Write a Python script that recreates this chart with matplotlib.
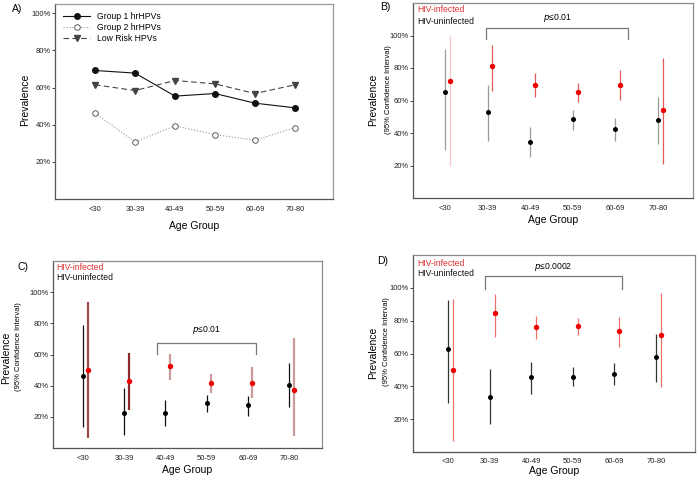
import numpy as np
import matplotlib
matplotlib.use("Agg")
import matplotlib.pyplot as plt

plt.rcParams['font.family'] = ['Liberation Sans', 'DejaVu Sans']

age_groups = ['<30', '30-39', '40-49', '50-59', '60-69', '70-80']

# panel A
group1 = [69.2, 67.8, 55.4, 56.8, 51.6, 49.1]
group2 = [46.2, 30.7, 39.4, 34.7, 31.6, 38.5]
low_risk = [61.5, 58.4, 63.8, 62.0, 56.8, 61.5]

# panel B
b_uninf = [65.0, 52.7, 34.5, 48.4, 42.5, 48.0]
b_uninf_lo = [29.3, 35.1, 25.2, 42.0, 35.1, 33.0]
b_uninf_hi = [91.9, 69.7, 43.7, 54.0, 49.4, 62.4]
b_inf = [72.2, 81.4, 69.7, 65.2, 69.7, 54.2]
b_inf_lo = [19.5, 66.0, 62.2, 59.0, 60.1, 21.1]
b_inf_hi = [99.5, 94.4, 76.9, 70.6, 78.8, 86.2]

# panel C
c_uninf = [45.9, 22.6, 22.2, 28.6, 27.3, 40.3]
c_uninf_lo = [13.7, 8.5, 14.1, 23.3, 20.7, 26.0]
c_uninf_hi = [79.1, 38.2, 30.5, 33.9, 33.5, 54.8]
c_inf = [50.3, 42.7, 52.3, 41.4, 42.0, 37.1]
c_inf_lo = [6.6, 24.5, 43.9, 35.6, 31.8, 7.5]
c_inf_hi = [93.7, 61.2, 60.2, 47.4, 52.0, 70.4]

# panel D
d_uninf = [62.9, 33.3, 45.5, 45.9, 47.5, 57.7]
d_uninf_lo = [29.8, 17.3, 35.5, 40.2, 40.6, 42.6]
d_uninf_hi = [92.4, 50.8, 54.8, 52.0, 54.4, 71.9]
d_inf = [50.2, 84.5, 76.1, 76.8, 73.7, 71.1]
d_inf_lo = [6.9, 70.1, 69.0, 71.5, 64.2, 39.4]
d_inf_hi = [93.2, 96.2, 83.0, 81.6, 82.4, 97.1]

W, H = 699, 482
fig = plt.figure(figsize=(W / 100, H / 100), dpi=100)

TICK = 5.5
XLAB = 7.5
YLAB = 7.5
SUB = 5.5
KEY = 6.2
PANEL = 7.5


def rect(l, t, r, b):
    return [l / W, 1 - b / H, (r - l) / W, (b - t) / H]


def px(x, y):
    return x / W, 1 - y / H


def style_axes(ax, frame='#8a8a8a'):
    for s in ['top', 'right']:
        ax.spines[s].set_color(frame)
    for s in ['left', 'bottom']:
        ax.spines[s].set_color('#555555')
    for s in ax.spines.values():
        s.set_linewidth(0.9)
    ax.set_yticks([20, 40, 60, 80, 100])
    ax.set_yticklabels(['20%', '40%', '60%', '80%', '100%'])
    ax.tick_params(axis='y', length=2, width=0.6, pad=1, labelsize=TICK, colors='#222222')
    ax.tick_params(axis='x', length=0, pad=5, labelsize=TICK, colors='#222222')
    ax.set_xticks(np.arange(1, 7))
    ax.set_xticklabels(age_groups)


x = np.arange(1, 7)

# ---- A
axA = fig.add_axes(rect(55, 4, 333, 199))
axA.plot(x, group1, '-', color='#111111', lw=0.8, marker='o', ms=4, label='Group 1 hrHPVs')
axA.plot(x, group2, ':', color='#999999', lw=0.8, marker='o', ms=4, mfc='white',
         mec='#444444', mew=0.6, label='Group 2 hrHPVs')
axA.plot(x, low_risk, '--', color='#444444', lw=0.8, marker='v', ms=4, dashes=(5, 3),
         label='Low Risk HPVs')
axA.set_xlim(0, 6.95)
axA.set_ylim(0, 105)
style_axes(axA, '#999999')
axA.set_xlabel('Age Group', fontsize=XLAB, labelpad=6)
axA.legend(loc='upper left', bbox_to_anchor=(0.0, 1.0), frameon=False, fontsize=KEY,
           handlelength=3.2, labelspacing=0.25, borderaxespad=0.5)
fig.text(*px(25, 100), 'Prevalence', rotation=90, ha='center', va='center', fontsize=YLAB)
fig.text(*px(17, 9), 'A)', ha='center', va='center', fontsize=PANEL)


def ci_panel(rc, xlim, uninf, ulo, uhi, inf, ilo, ihi, ucol, icol, uw, iw, off=0.11):
    ax = fig.add_axes(rect(*rc))
    for i in range(6):
        ax.vlines(x[i], ulo[i], uhi[i], color=ucol[i], lw=uw)
        ax.vlines(x[i] + off, ilo[i], ihi[i], color=icol[i], lw=iw)
    ax.plot(x, uninf, 'o', color='black', ms=3.6, mec='none')
    ax.plot(x + off, inf, 'o', color='#ee0000', ms=3.9, mec='none')
    ax.set_xlim(*xlim)
    ax.set_ylim(0, 120)
    style_axes(ax)
    return ax


def bracket(ax, x0, x1, y, ylo, label, ty):
    ax.plot([x0, x0, x1, x1], [ylo, y, y, ylo], color='#777777', lw=0.9)
    ax.text((x0 + x1) / 2, ty, label, ha='center', va='center', fontsize=KEY)


def keys(xp, y1, y2):
    fig.text(*px(xp, y1), 'HIV-infected', color='#e03030', ha='left', va='center', fontsize=KEY)
    fig.text(*px(xp, y2), 'HIV-uninfected', color='#111111', ha='left', va='center',
             fontsize=KEY)


def ylabels(x1, y1, x2, y2):
    fig.text(*px(x1, y1), 'Prevalence', rotation=90, ha='center', va='center', fontsize=YLAB)
    fig.text(*px(x2, y2), '(95% Confidence Interval)', rotation=90, ha='center',
             va='center', fontsize=SUB)


# ---- B
axB = ci_panel((413, 3, 693, 198), (0.25, 6.82), b_uninf, b_uninf_lo, b_uninf_hi,
               b_inf, b_inf_lo, b_inf_hi, ['#9a9a9a'] * 6,
               ['#f6c8c8'] + ['#e65a5a'] * 5, 0.9, 0.9)
bracket(axB, 1.96, 5.3, 104.8, 98, r'$\it{p}$≤0.01', 110.5)
axB.set_xlabel('Age Group', fontsize=XLAB, labelpad=2)
ylabels(373, 100, 389, 90)
fig.text(*px(385, 7), 'B)', ha='center', va='center', fontsize=PANEL)
keys(417, 10, 21)

# ---- C
axC = ci_panel((53, 261, 322, 448), (0.27, 6.8), c_uninf, c_uninf_lo, c_uninf_hi,
               c_inf, c_inf_lo, c_inf_hi, ['#111111'] * 6,
               ['#9c4a4a', '#8c2a2a'] + ['#cc9a9a'] * 4, 0.9, 1.6)
bracket(axC, 2.8, 5.2, 67.6, 60.6, r'$\it{p}$≤0.01', 76)
axC.set_xlabel('Age Group', fontsize=XLAB, labelpad=2)
ylabels(6, 358, 19, 347)
fig.text(*px(23, 267), 'C)', ha='center', va='center', fontsize=PANEL)
keys(56, 267, 278)

# ---- D
axD = ci_panel((413, 255, 695, 452), (0.16, 6.94), d_uninf, d_uninf_lo, d_uninf_hi,
               d_inf, d_inf_lo, d_inf_hi, ['#333333'] * 6,
               ['#f07070'] * 6, 0.9, 0.9, off=0.12)
bracket(axD, 1.88, 5.18, 107, 99.3, r'$\it{p}$≤0.0002', 112.7)
axD.set_xlabel('Age Group', fontsize=XLAB, labelpad=1)
axD.tick_params(axis='x', pad=4)
ylabels(373, 353, 386, 342)
fig.text(*px(383, 261), 'D)', ha='center', va='center', fontsize=PANEL)
keys(417, 263, 273)

fig.savefig('out.png', dpi=100)
